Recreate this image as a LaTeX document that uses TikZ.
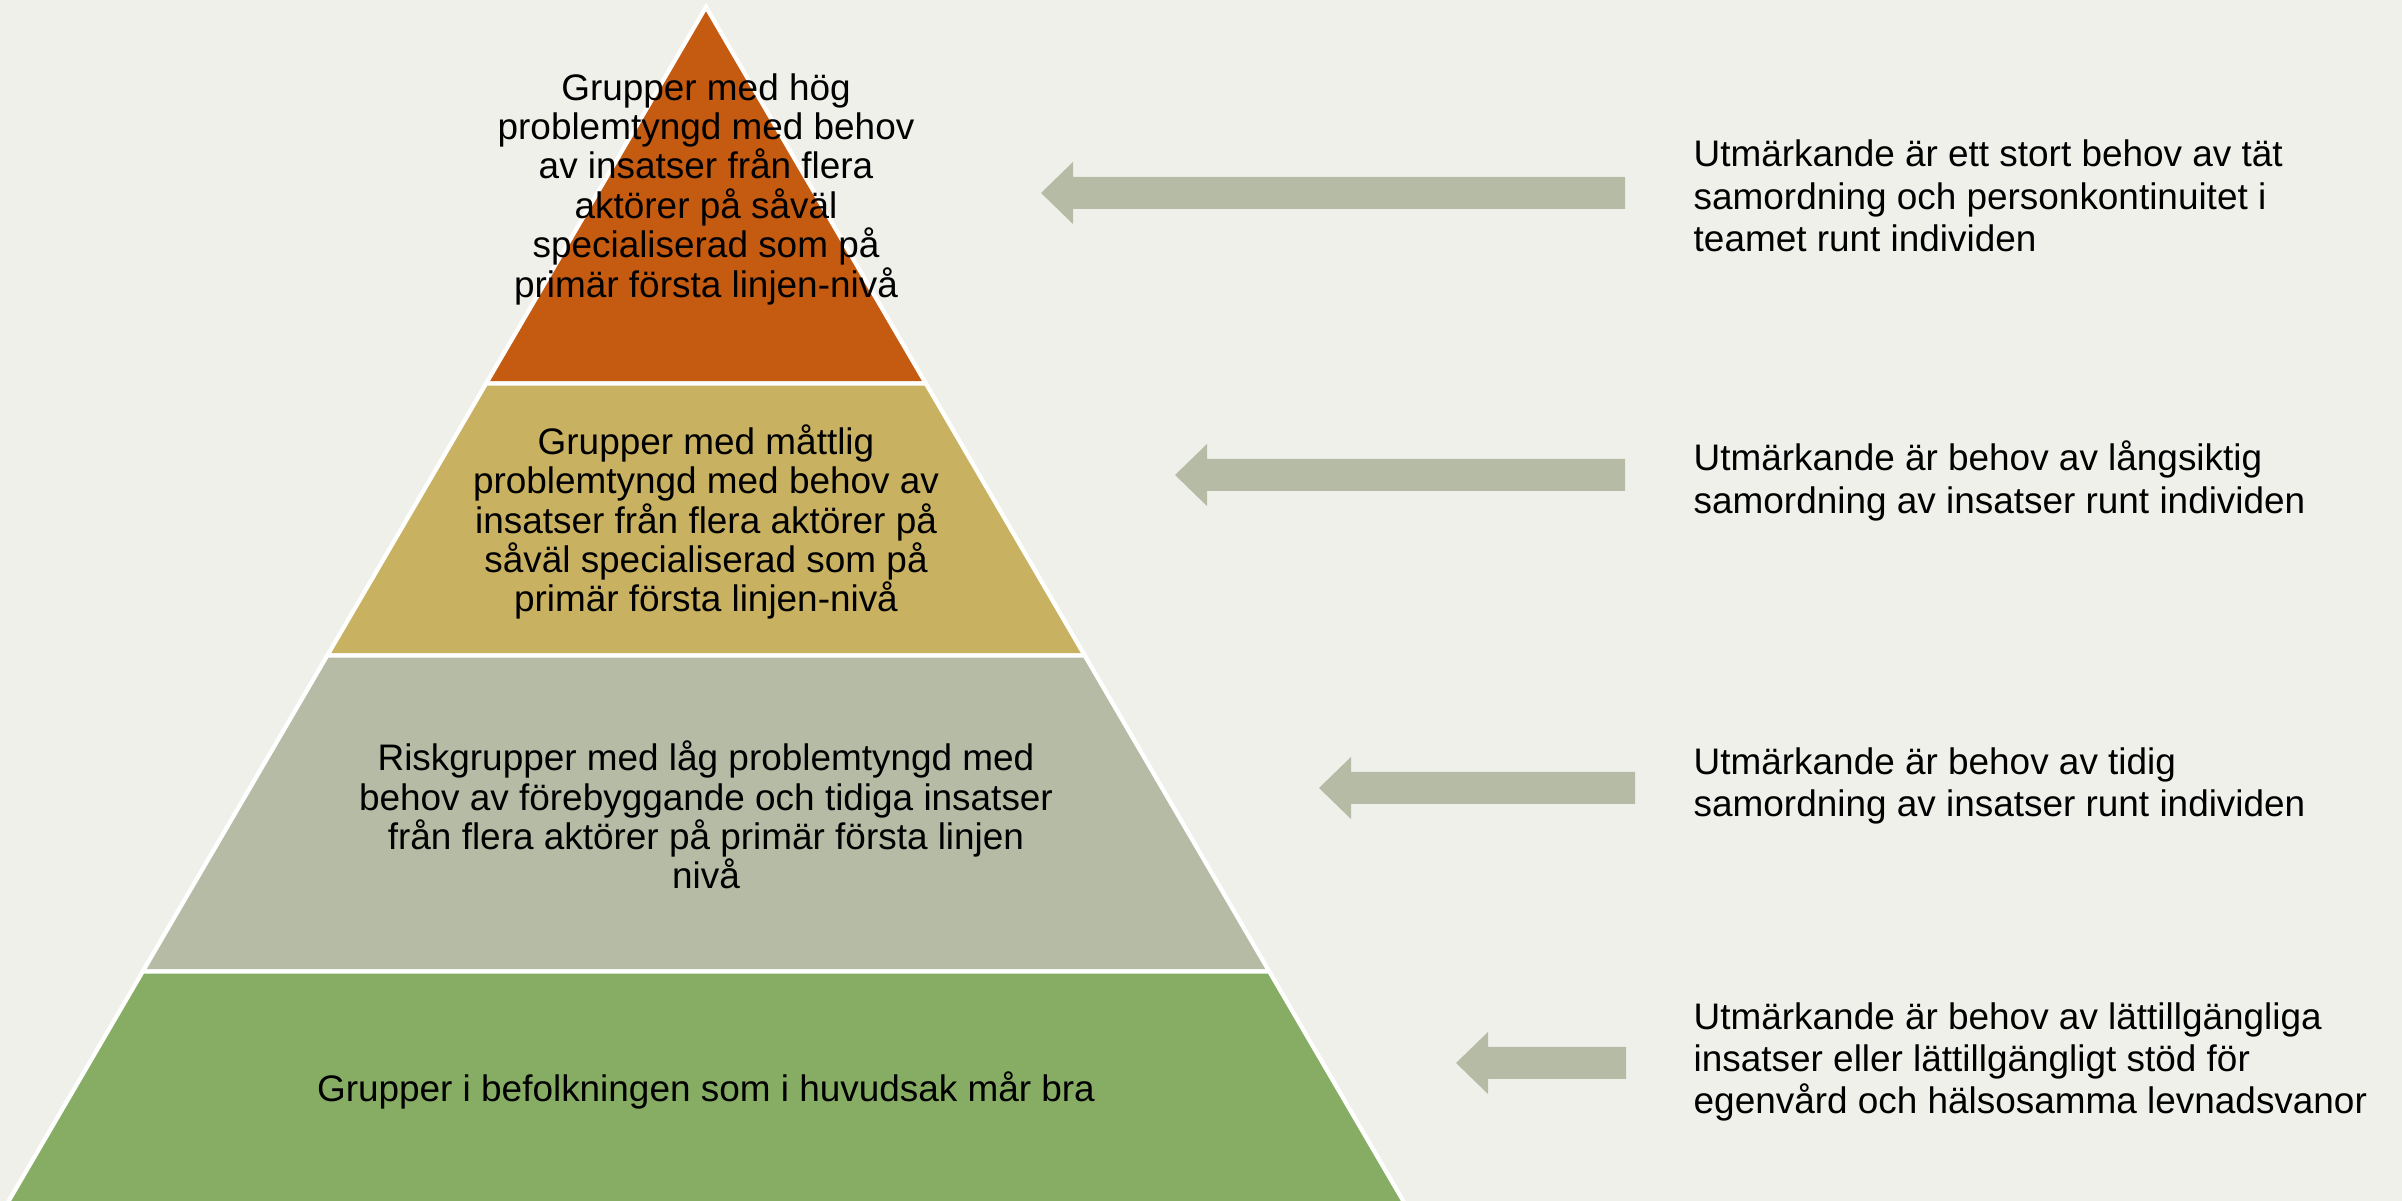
\documentclass[tikz,border=0pt]{standalone}
\usepackage{fontspec}
\setmainfont{Liberation Sans}

\definecolor{bgcol}{HTML}{F0F0EB}
\definecolor{topcol}{HTML}{C55A11}
\definecolor{midcol}{HTML}{C9B162}
\definecolor{lowcol}{HTML}{B5BBA4}
\definecolor{basecol}{HTML}{86AD63}
\definecolor{arrowcol}{HTML}{B5BBA4}

\tikzset{
  layer/.style={draw=white, line width=1.2pt, line join=miter},
  layertext/.style={align=center, inner sep=0pt, font=\fontsize{10.5}{11.2}\selectfont},
  note/.style={align=left, anchor=west, inner sep=0pt, font=\fontsize{10.5}{12}\selectfont},
  blockarrow/.style={fill=arrowcol},
}

\begin{document}
\begin{tikzpicture}[x=0.01cm, y=-0.01cm]
  \fill[bgcol] (0,0) rectangle (2402,1201);
  \useasboundingbox (0,0) rectangle (2402,1201);
  \clip (0,0) rectangle (2402,1201);

  % pyramid levels, apex at (706,7)
  \foreach \ya/\yb/\col in {7/383.5/topcol, 383.5/655.5/midcol, 655.5/971.5/lowcol, 971.5/1230/basecol}
    \filldraw[layer, fill=\col] ({706-0.584*(\ya-7)},\ya) -- ({706+0.584*(\ya-7)},\ya)
      -- ({706+0.584*(\yb-7)},\yb) -- ({706-0.584*(\yb-7)},\yb) -- cycle;

  \node[layertext] (lvlTop)  at (706,189)  {Grupper med hög\\problemtyngd med behov\\av insatser från flera\\aktörer på såväl\\specialiserad som på\\primär första linjen-nivå};
  \node[layertext] (lvlMid)  at (706,522)  {Grupper med måttlig\\problemtyngd med behov av\\insatser från flera aktörer på\\såväl specialiserad som på\\primär första linjen-nivå};
  \node[layertext] (lvlLow)  at (706,815)  {Riskgrupper med låg problemtyngd med\\behov av förebyggande och tidiga insatser\\från flera aktörer på primär första linjen\\nivå};
  \node[layertext] (lvlBase) at (706,1090) {Grupper i befolkningen som i huvudsak mår bra};

  % block arrows: tip / tail / y
  \foreach \tip/\tail/\y in {1041/1625/193, 1175/1625/475, 1319/1635/788, 1456/1626/1063}
    \fill[blockarrow] (\tip,\y) -- ({\tip+32},{\y-31}) -- ({\tip+32},{\y-16}) -- (\tail,{\y-16})
      -- (\tail,{\y+16}) -- ({\tip+32},{\y+16}) -- ({\tip+32},{\y+31}) -- cycle;

  \node[note] (noteTop)  at (1693,196)  {Utmärkande är ett stort behov av tät\\samordning och personkontinuitet i\\teamet runt individen};
  \node[note] (noteMid)  at (1693,481)  {Utmärkande är behov av långsiktig\\samordning av insatser runt individen};
  \node[note] (noteLow)  at (1693,786)  {Utmärkande är behov av tidig\\samordning av insatser runt individen};
  \node[note] (noteBase) at (1693,1062) {Utmärkande är behov av lättillgängliga\\insatser eller lättillgängligt stöd för\\egenvård och hälsosamma levnadsvanor};
\end{tikzpicture}
\end{document}
